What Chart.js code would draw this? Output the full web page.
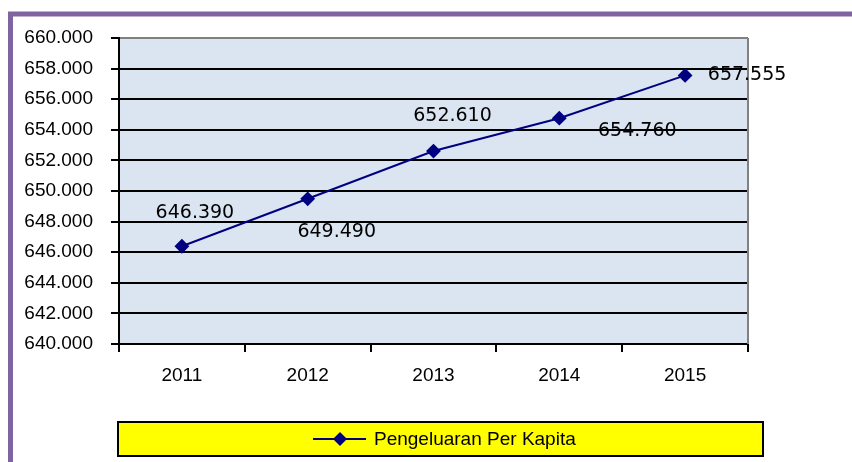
<!DOCTYPE html>
<html>
<head>
<meta charset="utf-8">
<script src="https://cdn.jsdelivr.net/npm/chart.js@4.4.0/dist/chart.umd.min.js"></script>
<style>
  body { margin: 0; background: #fff; }
</style>
</head>
<body>
<canvas id="chart" width="852" height="462"></canvas>
<script>
(function () {
  const years = ['2011', '2012', '2013', '2014', '2015'];
  const spending = [646390, 649490, 652610, 654760, 657555];
  const seriesName = 'Pengeluaran Per Kapita';
  const yMin = 640000;
  const yMax = 660000;
  const yStep = 2000;

  // where each data label sits relative to its point (manual, like the original)
  const labelOffsets = [[13, -33], [29, 33], [19, -35], [78, 13], [62, 0]];

  const fmt = (v) => v.toLocaleString('de-DE');

  const framePlugin = {
    id: 'frame',
    beforeDraw(chart) {
      const c = chart.ctx;
      const a = chart.chartArea;
      c.save();
      c.fillStyle = '#fff';
      c.fillRect(0, 0, chart.width, chart.height);
      c.strokeStyle = '#8064A2';
      c.lineWidth = 5;
      c.beginPath();
      c.moveTo(10.5, chart.height);
      c.lineTo(10.5, 14);
      c.lineTo(chart.width, 14);
      c.stroke();
      c.fillStyle = '#DBE5F1';
      c.fillRect(a.left, a.top, a.right - a.left, a.bottom - a.top);
      c.restore();
    },
    afterDatasetsDraw(chart) {
      const c = chart.ctx;
      const a = chart.chartArea;
      const meta = chart.getDatasetMeta(0);
      c.save();
      c.strokeStyle = '#808080';
      c.lineWidth = 2;
      c.beginPath();
      c.moveTo(a.right, a.top);
      c.lineTo(a.right, a.bottom);
      c.stroke();

      c.fillStyle = '#000';
      c.font = '19px "DejaVu Sans"';
      c.textAlign = 'center';
      c.textBaseline = 'middle';
      meta.data.forEach((pt, i) => {
        c.fillText(fmt(spending[i]), pt.x + labelOffsets[i][0], pt.y + labelOffsets[i][1]);
      });

      // legend box
      const bx = 118, by = 422, bw = 645, bh = 34;
      c.fillStyle = '#FFFF00';
      c.fillRect(bx, by, bw, bh);
      c.strokeStyle = '#000';
      c.lineWidth = 2;
      c.strokeRect(bx, by, bw, bh);
      const cy = by + bh / 2;
      c.strokeStyle = '#000080';
      c.beginPath();
      c.moveTo(313, cy);
      c.lineTo(366, cy);
      c.stroke();
      c.fillStyle = '#000080';
      c.beginPath();
      c.moveTo(340, cy - 7);
      c.lineTo(347, cy);
      c.lineTo(340, cy + 7);
      c.lineTo(333, cy);
      c.closePath();
      c.fill();
      c.fillStyle = '#000';
      c.font = '19px "Liberation Sans"';
      c.textAlign = 'left';
      c.fillText(chart.data.datasets[0].label, 374, cy + 1);
      c.restore();
    }
  };

  new Chart(document.getElementById('chart').getContext('2d'), {
    type: 'line',
    data: {
      labels: years,
      datasets: [{
        label: seriesName,
        data: spending,
        borderColor: '#000080',
        backgroundColor: '#000080',
        borderWidth: 2,
        pointStyle: 'rectRot',
        pointRadius: 6,
        pointHoverRadius: 6,
        fill: false,
        tension: 0
      }]
    },
    options: {
      responsive: false,
      animation: false,
      layout: { padding: { left: 0, right: 104, top: 38, bottom: 0 } },
      plugins: {
        legend: { display: false },
        tooltip: { enabled: false }
      },
      scales: {
        x: {
          offset: true,
          grid: {
            offset: true,
            drawOnChartArea: false,
            drawTicks: true,
            tickLength: 8,
            color: '#000',
            lineWidth: 2
          },
          border: { display: true, color: '#000', width: 2 },
          ticks: {
            color: '#000',
            padding: 12,
            font: { family: 'Liberation Sans', size: 19 },
            maxRotation: 0
          },
          afterFit(scale) { scale.height = 118; }
        },
        y: {
          min: yMin,
          max: yMax,
          grid: {
            color: (ctx) => (ctx.tick && ctx.tick.value === yMax ? '#808080' : '#000'),
            tickColor: '#000',
            lineWidth: 2,
            tickLength: 8
          },
          border: { display: true, color: '#000', width: 2 },
          ticks: {
            stepSize: yStep,
            color: '#000',
            padding: 18,
            font: { family: 'Liberation Sans', size: 19 },
            callback: (v) => fmt(v)
          },
          afterFit(scale) { scale.width = 119; }
        }
      }
    },
    plugins: [framePlugin]
  });
})();
</script>
</body>
</html>
